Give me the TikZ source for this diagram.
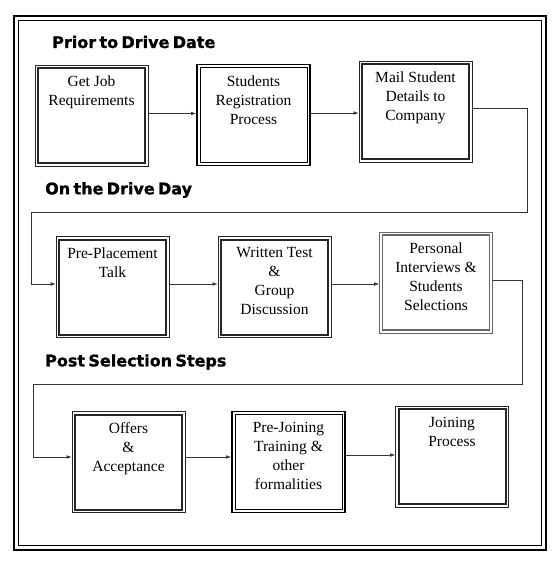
\documentclass[tikz,border=0pt]{standalone}
\usepackage{fontspec}
\setmainfont{Liberation Serif}
\newfontfamily\headfont[FakeBold=1.2, WordSpace=0.6]{DejaVu Sans}
\usepackage{tikz}
\usetikzlibrary{arrows.meta}
\usetikzlibrary{positioning}
\tikzset{stepbox/.style = {draw = black!85, line width = 0.7pt, minimum width = 113pt,
                           minimum height = 101pt, inner sep = 0pt,
                           font = \fontsize{15.5}{19}\selectfont,
                           execute at begin node = {\begin{minipage}[t][79pt][t]{106pt}\centering},
                           execute at end node = {\end{minipage}},
                           path picture = {\draw [line width = #1]
                             ([shift={(3pt,-3pt)}]path picture bounding box.north west) rectangle
                             ([shift={(-3pt,3pt)}]path picture bounding box.south east);}},
         stepbox/.default = 2pt}
\tikzset{heavybox/.style = {stepbox = 0.9pt, line width = 1.8pt, draw = black}}
\tikzset{heading/.style = {anchor = west, inner sep = 0pt,
                           font = \headfont\bfseries\fontsize{16}{18}\selectfont}}
\tikzset{link/.style = {draw = black!80, line width = 0.6pt,
                        -{Latex[length = 5pt, width = 3.6pt]}}}

\begin{document}
\begin{tikzpicture}[x = 1pt, y = -1pt]
    \useasboundingbox (0, 0) rectangle (560, 563);
    % frame
    \draw [line width = 2.6pt] (14, 16) rectangle (546, 550);
    \draw [line width = 1pt] (18.5, 20.5) rectangle (541.5, 545.5);
    % headings
    \node [heading] (prior) at (52, 42) {Prior to Drive Date};
    \node [heading] (day) at (45, 190) {On the Drive Day};
    \node [heading] (post) at (45, 362) {Post Selection Steps};
    % row 1
    \node [stepbox] (job) at (91.5, 115.5) {Get Job\\Requirements};
    \node [heavybox] (reg) at (253.5, 115) {Students\\Registration\\Process};
    \node [stepbox] (mail) at (415.5, 111.5) {Mail Student\\Details to\\Company};
    % row 2
    \node [stepbox] (talk) at (112.5, 287) {Pre-Placement\\Talk};
    \node [stepbox] (test) at (274.5, 287) {Written Test\\\&\\Group\\Discussion};
    \node [stepbox = 1.3pt, draw = black!60] (pi) at (436, 282.5)
          {Personal\\Interviews \&\\Students\\Selections};
    % row 3
    \node [stepbox] (offer) at (128.5, 462) {Offers\\\&\\Acceptance};
    \node [heavybox] (train) at (288.5, 462) {Pre-Joining\\Training \&\\other\\formalities};
    \node [stepbox] (join) at (452, 456.5) {Joining\\Process};
    % connectors
    \draw [link] ([yshift=2pt]job.east) -- ([yshift=2pt]job.east -| reg.west);
    \draw [link] ([yshift=2pt]reg.east) -- ([yshift=2pt]reg.east -| mail.west);
    \draw [link] ([yshift=3.5pt]mail.east) -| (527, 212) -| (31, 284)
          -- ([yshift=3pt]talk.west);
    \draw [link] ([yshift=3pt]talk.east) -- ([yshift=3pt]test.west);
    \draw [link] ([yshift=3pt]test.east) -- ([yshift=3pt]test.east -| pi.west);
    \draw [link] ([yshift=2.5pt]pi.east) -| (522, 384) -| (33, 457)
          -- ([yshift=5pt]offer.west);
    \draw [link] ([yshift=5pt]offer.east) -- ([yshift=5pt]train.west);
    \draw [link] ([yshift=7pt]train.east) -- ([yshift=7pt]train.east -| join.west);
  \end{tikzpicture}
\end{document}
